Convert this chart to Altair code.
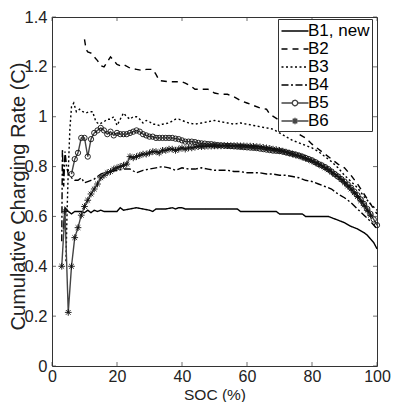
import altair as alt
import pandas as pd

FONT = "Liberation Sans"

series_names = ["B1, new", "B2", "B3", "B4", "B5", "B6"]

b1_soc = [3.5, 4, 5, 6, 7, 8, 9, 10, 11, 12, 13, 14, 15, 16, 18, 20, 21, 22, 24, 26, 28, 30, 31, 32, 35, 37, 38, 39, 40, 41, 45, 50, 55, 57, 58, 65, 69, 70, 75, 77, 78, 85, 86, 88, 90, 92, 94, 96, 97, 98, 99, 100]
b1_val = [0.55, 0.635, 0.62, 0.61, 0.62, 0.62, 0.62, 0.615, 0.625, 0.615, 0.625, 0.62, 0.625, 0.62, 0.62, 0.62, 0.635, 0.625, 0.63, 0.635, 0.63, 0.625, 0.62, 0.63, 0.63, 0.635, 0.63, 0.635, 0.635, 0.63, 0.63, 0.63, 0.63, 0.63, 0.62, 0.62, 0.62, 0.61, 0.61, 0.61, 0.60, 0.60, 0.595, 0.585, 0.575, 0.56, 0.55, 0.535, 0.525, 0.51, 0.495, 0.47]

b2_soc = [10, 10.5, 11, 12, 13, 14, 15, 16, 17, 18, 19, 20, 21, 22, 24, 26, 28, 29, 31, 32, 33, 36, 40, 41, 43, 44, 48, 50, 52, 54, 56, 58, 60, 62, 64, 66, 67, 70, 73, 76, 78, 80, 83, 86, 88, 90, 92, 94, 96, 98, 100]
b2_val = [1.31, 1.27, 1.26, 1.255, 1.24, 1.225, 1.205, 1.20, 1.22, 1.24, 1.225, 1.21, 1.205, 1.21, 1.195, 1.19, 1.185, 1.19, 1.19, 1.17, 1.145, 1.14, 1.14, 1.135, 1.12, 1.11, 1.11, 1.095, 1.09, 1.09, 1.08, 1.065, 1.055, 1.045, 1.035, 1.03, 1.01, 0.985, 0.96, 0.93, 0.915, 0.89, 0.86, 0.83, 0.81, 0.795, 0.765, 0.73, 0.69, 0.65, 0.61]

b3_soc = [4.3, 4.6, 5, 5.5, 6, 6.7, 7.5, 8.5, 9.5, 10.5, 11.5, 12.5, 13.5, 14.5, 16, 17, 18, 19, 20, 21, 22, 23, 24, 25, 26, 27, 28, 29, 30, 31, 32, 33, 34, 36, 38, 39, 40, 42, 44, 46, 48, 50, 52, 54, 56, 58, 60, 62, 64, 66, 68, 70, 72, 74, 76, 78, 80, 82, 84, 86, 88, 90, 92, 94, 96, 98, 100]
b3_val = [0.42, 0.60, 0.78, 0.95, 1.04, 1.055, 1.02, 1.03, 1.02, 1.015, 1.02, 1.02, 0.98, 0.97, 0.98, 0.99, 0.99, 1.0, 0.965, 0.99, 1.015, 1.0, 0.99, 1.0, 1.0, 0.99, 0.975, 0.985, 0.98, 0.97, 0.97, 0.965, 0.97, 0.975, 0.99, 0.99, 0.985, 0.975, 0.97, 0.975, 0.98, 0.985, 0.98, 0.975, 0.97, 0.975, 0.97, 0.965, 0.96, 0.955, 0.95, 0.935, 0.92, 0.905, 0.895, 0.885, 0.875, 0.86, 0.84, 0.82, 0.795, 0.765, 0.74, 0.715, 0.68, 0.65, 0.625]

b4_soc = [3, 3.2, 3.6, 4, 4.5, 5, 6, 7, 8, 9, 10, 11, 12, 13, 14, 15, 16, 18, 20, 22, 24, 26, 28, 30, 32, 34, 36, 38, 40, 42, 44, 46, 48, 50, 52, 54, 56, 58, 60, 62, 64, 66, 68, 70, 72, 74, 76, 78, 80, 82, 84, 86, 88, 90, 92, 94, 96, 98, 100]
b4_val = [0.50, 0.87, 0.72, 0.86, 0.80, 0.77, 0.755, 0.745, 0.745, 0.755, 0.735, 0.74, 0.745, 0.75, 0.76, 0.77, 0.775, 0.78, 0.785, 0.79, 0.79, 0.775, 0.785, 0.79, 0.795, 0.80, 0.795, 0.785, 0.795, 0.79, 0.79, 0.795, 0.79, 0.785, 0.785, 0.785, 0.78, 0.78, 0.775, 0.775, 0.775, 0.77, 0.77, 0.765, 0.765, 0.76, 0.755, 0.745, 0.74, 0.73, 0.72, 0.71, 0.69, 0.675, 0.655, 0.63, 0.605, 0.58, 0.55]

b5_soc = list(range(6, 101))
b5_val = [0.77, 0.83, 0.855, 0.915, 0.915, 0.84, 0.91, 0.935, 0.945, 0.955, 0.945, 0.93, 0.94, 0.925, 0.935,
          0.93, 0.93, 0.93, 0.935, 0.94, 0.945, 0.94, 0.93, 0.925, 0.92, 0.92, 0.915, 0.915, 0.915, 0.915,
          0.915, 0.915, 0.912, 0.91, 0.905, 0.90, 0.90, 0.90, 0.898, 0.895, 0.893, 0.892, 0.89, 0.89, 0.888,
          0.886, 0.885, 0.884, 0.883, 0.882, 0.881, 0.88, 0.879, 0.878, 0.877, 0.876, 0.875, 0.874, 0.872, 0.87,
          0.868, 0.866, 0.864, 0.863, 0.862, 0.86, 0.857, 0.854, 0.851, 0.848, 0.844, 0.84, 0.835, 0.83, 0.825,
          0.818, 0.81, 0.805, 0.798, 0.79, 0.78, 0.77, 0.76, 0.75, 0.74, 0.728, 0.715, 0.70, 0.685, 0.668,
          0.65, 0.63, 0.61, 0.588, 0.565]

b6_soc = [3, 4, 5] + list(range(6, 101))
b6_val = [0.40, 0.62, 0.215,
          0.40, 0.515, 0.555, 0.605, 0.64, 0.665, 0.69, 0.71, 0.73, 0.755, 0.765, 0.775, 0.78, 0.79, 0.795,
          0.80, 0.805, 0.81, 0.84, 0.835, 0.84, 0.845, 0.85, 0.85, 0.855, 0.86, 0.86, 0.855, 0.865,
          0.865, 0.87, 0.87, 0.865, 0.87, 0.875, 0.87, 0.875, 0.875, 0.878, 0.88, 0.88, 0.881, 0.882,
          0.882, 0.883, 0.883, 0.883, 0.884, 0.884, 0.884, 0.884, 0.884, 0.883, 0.883, 0.882, 0.882, 0.881,
          0.88, 0.879, 0.877, 0.875, 0.873, 0.87, 0.868, 0.865, 0.862, 0.858, 0.854, 0.85, 0.846, 0.843,
          0.838, 0.833, 0.828, 0.822, 0.816, 0.81, 0.803, 0.795, 0.787, 0.778, 0.769, 0.76, 0.748, 0.735,
          0.722, 0.71, 0.695, 0.68, 0.663, 0.645, 0.625, 0.605]

x_ticks = [0, 20, 40, 60, 80, 100]
y_ticks = [0, 0.2, 0.4, 0.6, 0.8, 1.0, 1.2, 1.4]

rows = []
for name, socs, vals in [
    ("B1, new", b1_soc, b1_val), ("B2", b2_soc, b2_val), ("B3", b3_soc, b3_val),
    ("B4", b4_soc, b4_val), ("B5", b5_soc, b5_val), ("B6", b6_soc, b6_val)]:
    for i, (s, v) in enumerate(zip(socs, vals)):
        rows.append({"series": name, "soc": s, "val": v, "order": i})
df = pd.DataFrame(rows)

tick_rows = []
for t in x_ticks:
    tick_rows.append({"pos": "bottom", "soc": t, "val": 0})
    tick_rows.append({"pos": "top", "soc": t, "val": 1.4})
for t in y_ticks:
    tick_rows.append({"pos": "left", "soc": 0, "val": t})
    tick_rows.append({"pos": "right", "soc": 100, "val": t})
tick_df = pd.DataFrame(tick_rows)

PW, PH = 325, 349

X = alt.X("soc:Q", scale=alt.Scale(domain=[0, 100], nice=False, zero=False),
          axis=alt.Axis(values=x_ticks, title="SOC (%)", titleFontSize=15.5, labelFlush=False,
                        labelPadding=2, labelFontSize=16, titleX=PW / 2, titleY=33,
                        titleAlign="center", titleBaseline="alphabetic"))
Y = alt.Y("val:Q", scale=alt.Scale(domain=[0, 1.4], nice=False),
          axis=alt.Axis(values=y_ticks, title="Cumulative Charging Rate (C)", format="~g",
                        labelFlush=False, labelPadding=5, labelFontSize=16.5,
                        titleFontSize=20, titleX=-28, titleY=179, titleAngle=270,
                        titleAlign="center", titleBaseline="alphabetic"))

dash_range = [[1, 0], [6, 5], [2, 2.5], [7, 2.5, 2, 2.5], [1, 0], [1, 0]]
width_range = [1.4, 1.4, 2.0, 2.4, 0.8, 0.8]
color_range = ["black", "black", "black", "black", "#444444", "#444444"]

ASTER = "M0,-1V1M-1,0H1M-0.7,-0.7L0.7,0.7M-0.7,0.7L0.7,-0.7"
LINE = "M-1.5,0H1.5"
LEG_B5 = "M-1.5,0H-0.3M0.3,0H1.5M0.3,0A0.3,0.3 0 1 1 -0.3,0A0.3,0.3 0 1 1 0.3,0"
LEG_B6 = "M-1.5,0H1.5M0,-0.37V0.37M-0.26,-0.26L0.26,0.26M-0.26,0.26L0.26,-0.26"
shape_range = [LINE, LINE, LINE, LINE, LEG_B5, LEG_B6]

leg = alt.Legend(title=None, orient="none", legendX=226, legendY=2, symbolSize=324,
                 symbolOffset=5, labelOffset=3, labelFontSize=17, labelFont=FONT,
                 labelColor="black", strokeColor="#333", fillColor="white", padding=2,
                 rowPadding=0, symbolOpacity=1, symbolStrokeColor="black",
                 symbolFillColor="transparent", cornerRadius=0, labelLimit=200)

base = alt.Chart(df).encode(x=X, y=Y)

legend_layer = base.mark_point(opacity=0, filled=False, color="black").encode(
    shape=alt.Shape("series:N", scale=alt.Scale(domain=series_names, range=shape_range), legend=leg),
    strokeDash=alt.StrokeDash("series:N", scale=alt.Scale(domain=series_names, range=dash_range), legend=leg),
    strokeWidth=alt.StrokeWidth("series:N", scale=alt.Scale(domain=series_names, range=width_range), legend=leg),
)

lines = base.mark_line(strokeCap="butt").encode(
    color=alt.Color("series:N", scale=alt.Scale(domain=series_names, range=color_range), legend=None),
    strokeDash=alt.StrokeDash("series:N", scale=alt.Scale(domain=series_names, range=dash_range), legend=None),
    strokeWidth=alt.StrokeWidth("series:N", scale=alt.Scale(domain=series_names, range=width_range), legend=None),
    detail="series:N",
    order="order:Q",
)

b5_pts = base.transform_filter(alt.datum.series == "B5").mark_point(
    shape="circle", size=28, filled=False, color="#111111", strokeWidth=0.9, opacity=1)
b6_pts = base.transform_filter(alt.datum.series == "B6").mark_point(
    shape=ASTER, size=45, filled=False, color="#111111", strokeWidth=0.9, opacity=1)

tbase = alt.Chart(tick_df).encode(x=X, y=Y)
t_bottom = tbase.transform_filter(alt.datum.pos == "bottom").mark_tick(
    orient="vertical", size=4, thickness=1, color="#333", yOffset=-2)
t_top = tbase.transform_filter(alt.datum.pos == "top").mark_tick(
    orient="vertical", size=4, thickness=1, color="#333", yOffset=2)
t_left = tbase.transform_filter(alt.datum.pos == "left").mark_tick(
    orient="horizontal", size=4, thickness=1, color="#333", xOffset=2)
t_right = tbase.transform_filter(alt.datum.pos == "right").mark_tick(
    orient="horizontal", size=4, thickness=1, color="#333", xOffset=-2)

chart = alt.layer(legend_layer, lines, b5_pts, b6_pts, t_bottom, t_top, t_left, t_right).properties(
    width=PW, height=PH,
    padding={"left": 44, "top": 9, "right": 14, "bottom": 36},
    autosize=alt.AutoSizeParams(type="none"),
).configure_view(stroke="#333", strokeWidth=1).configure_axis(
    domain=False, ticks=False, grid=False, labelFont=FONT, titleFont=FONT,
    labelColor="#222", titleColor="#222", titleFontWeight="normal",
)

chart.save("out.html", embed_options={"renderer": "svg", "actions": False})
